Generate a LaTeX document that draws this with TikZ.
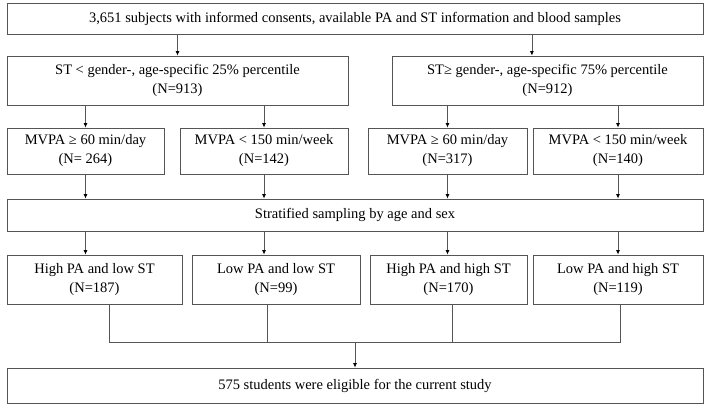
\documentclass[tikz,border=0pt]{standalone}
\usepackage{fontspec}
\setmainfont{Liberation Serif}
\usepackage{xcolor}
\usetikzlibrary{arrows.meta,positioning,calc}
\definecolor{edgegray}{HTML}{555555}

\begin{document}
\begin{tikzpicture}[
  x=1pt,
  y=-1pt,
  box/.style={draw=edgegray, line width=0.8pt, inner sep=0pt, align=center},
  link/.style={draw=edgegray, line width=0.8pt},
  flow/.style={draw=edgegray, line width=0.8pt, -{Latex[length=4.5pt,width=4pt,color=black]}},
  every node/.style={font=\fontsize{14.5}{19}\selectfont}
]
\useasboundingbox (0,0) rectangle (708,407);
% boxes
\node[box, minimum width=696, minimum height=31] (top) at (355,18.5) {3,651 subjects with informed consents, available PA and ST information and blood samples};
\node[box, minimum width=341, minimum height=49] (stlow) at (177.5,80.5) {ST < gender-, age-specific 25\% percentile\\(N=913)};
\node[box, minimum width=311, minimum height=49] (sthigh) at (547.5,80.5) {ST≥ gender-, age-specific 75\% percentile\\(N=912)};

\node[box, minimum width=157, minimum height=46] (m1) at (85.5,151) {MVPA ≥ 60 min/day\\(N= 264)};
\node[box, minimum width=168, minimum height=46] (m2) at (264,151) {MVPA < 150 min/week\\(N=142)};
\node[box, minimum width=159, minimum height=46] (m3) at (447.5,151) {MVPA ≥ 60 min/day\\(N=317)};
\node[box, minimum width=170, minimum height=46] (m4) at (618,151) {MVPA < 150 min/week\\(N=140)};

\node[box, minimum width=696, minimum height=32] (strat) at (355,215) {Stratified sampling by age and sex};

\node[box, minimum width=175, minimum height=49] (g1) at (94.5,279.5) {High PA and low ST\\(N=187)};
\node[box, minimum width=168, minimum height=49] (g2) at (276,279.5) {Low PA and low ST\\(N=99)};
\node[box, minimum width=157, minimum height=49] (g3) at (448.5,279.5) {High PA and high ST\\(N=170)};
\node[box, minimum width=170, minimum height=49] (g4) at (618,279.5) {Low PA and high ST\\(N=119)};

\node[box, minimum width=696, minimum height=35] (final) at (355,385.5) {575 students were eligible for the current study};

% arrows
\coordinate (sthighIn) at ($(sthigh.north west)!0.45!(sthigh.north east)$);
\draw[flow] (top.south -| stlow.north) -- (stlow.north);
\draw[flow] (top.south -| sthighIn) -- (sthighIn);
\draw[flow] (stlow.south -| m1) -- (m1.north);
\draw[flow] (stlow.south -| m2) -- (m2.north);
\draw[flow] (sthigh.south -| m3) -- (m3.north);
\draw[flow] (sthigh.south -| m4) -- (m4.north);
\foreach \m in {m1,m2,m3,m4}{
  \draw[flow] (\m.south) -- (strat.north -| \m);
  \draw[flow] (strat.south -| \m) -- (g1.north -| \m);
}

% joining lines
\coordinate (j1) at (109,342);
\coordinate (j2) at (267,342);
\coordinate (j3) at (452,342);
\coordinate (j4) at (620,342);
\coordinate (j0) at (355,342);
\draw[link] (j1 |- g1.south) -- (j1) -- (j4) -- (j4 |- g4.south);
\draw[link] (j2 |- g2.south) -- (j2);
\draw[link] (j3 |- g3.south) -- (j3);
\draw[flow] (j0) -- (final.north);
\end{tikzpicture}
\end{document}
